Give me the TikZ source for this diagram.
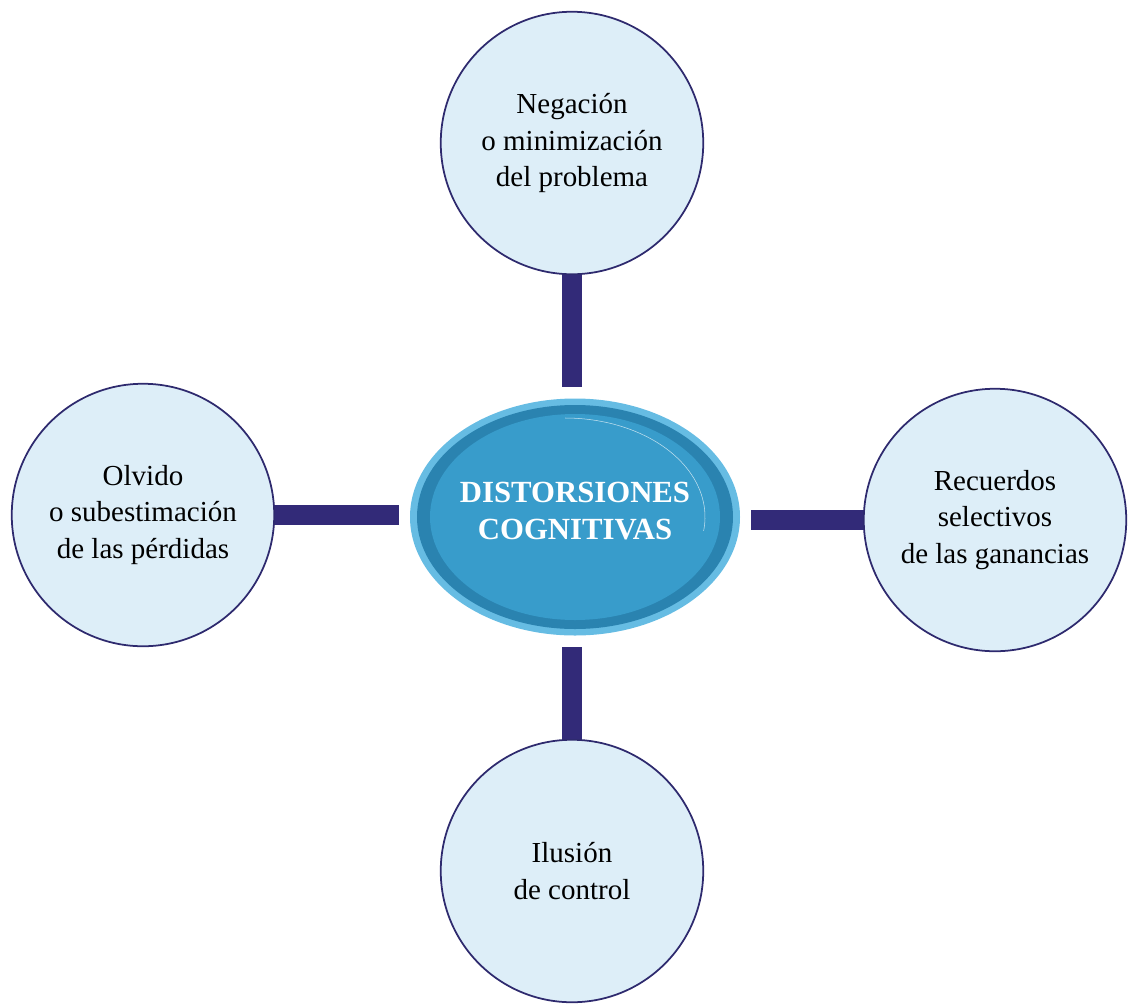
\documentclass[tikz,border=0pt]{standalone}
\usepackage{fontspec}
\setmainfont{Liberation Serif}
\usetikzlibrary{shapes.geometric}
\definecolor{bubble}{HTML}{DDEEF8}
\definecolor{navy}{HTML}{2E2A6E}
\definecolor{bar}{HTML}{322A78}
\definecolor{rimblue}{HTML}{66BCE3}
\definecolor{ringblue}{HTML}{2A83B0}
\definecolor{coreblue}{HTML}{389CCB}
\begin{document}
\begin{tikzpicture}[
  idea/.style={circle, draw=navy, line width=1pt, fill=bubble, minimum size=5.25cm,
    align=center, font=\fontsize{16.5}{21}\selectfont},
  link/.style={bar, line width=0.4cm, shorten >=0.22cm},
  hub/.style={ellipse, fill=rimblue, minimum width=6.6cm, minimum height=4.74cm, inner sep=0pt,
    align=center, text=white, font=\bfseries\fontsize{17.5}{21}\selectfont,
    path picture={
      \fill[ringblue] (path picture bounding box.center) ellipse [x radius=3.16cm, y radius=2.24cm];
      \fill[coreblue] (path picture bounding box.center) ellipse [x radius=2.9cm, y radius=2.06cm];
      \draw[white!70!coreblue, line width=0.3pt] ([xshift=-0.2cm,yshift=1.98cm]path picture bounding box.center) arc [start angle=90, end angle=-8, x radius=2.8cm, y radius=1.98cm];
    }}]
\useasboundingbox (0,0) rectangle (22.56,-20.08);
\node[hub] (mid) at (11.5,-10.34) {DISTORSIONES\\COGNITIVAS\\[-0.5cm]};
\node[idea] (top) at (11.44,-2.86) {Negación\\o minimización\\del problema};
\node[idea] (left) at (2.86,-10.3) {Olvido\\o subestimación\\de las pérdidas};
\node[idea] (right) at (19.9,-10.4) {Recuerdos\\selectivos\\de las ganancias};
\node[idea] (bottom) at (11.44,-17.42) {Ilusión\\de control};
% spokes
\draw[link] (top.south) -- (top.south |- mid.north);
\draw[link] (left.east) -- (mid.west |- left.east);
\draw[link] (right.west) -- (mid.east |- right.west);
\draw[link] (bottom.north) -- (bottom.north |- mid.south);
\end{tikzpicture}
\end{document}
